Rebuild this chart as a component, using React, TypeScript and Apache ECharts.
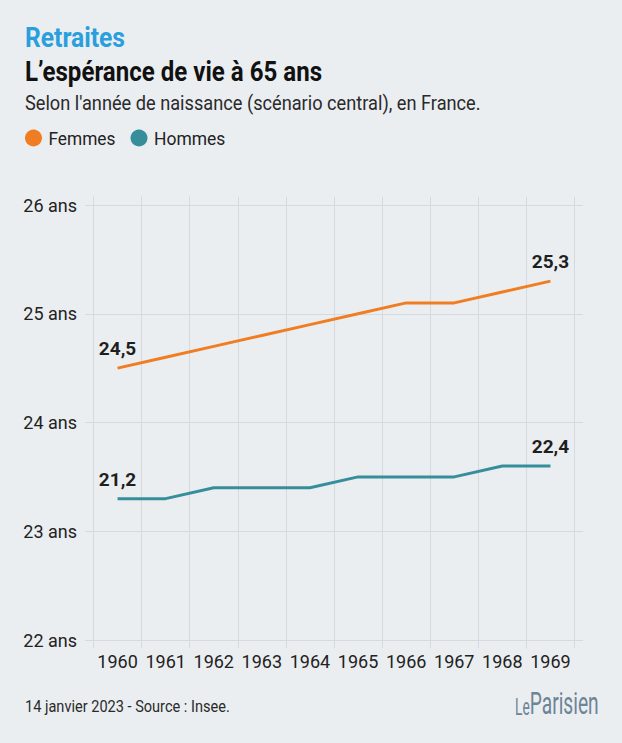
import React, { useEffect, useRef } from "react";
import * as echarts from "echarts";

const annees = ["1960", "1961", "1962", "1963", "1964", "1965", "1966", "1967", "1968", "1969"];
const femmes = [24.5, 24.6, 24.7, 24.8, 24.9, 25.0, 25.1, 25.1, 25.2, 25.3];
// Hommes curve as drawn in the reference (its end labels read 21,2 and 22,4)
const hommes = [23.3, 23.3, 23.4, 23.4, 23.4, 23.5, 23.5, 23.5, 23.6, 23.6];
const femmesLabels = ["24,5", "25,3"];
const hommesLabels = ["21,2", "22,4"];
const yTicks = [22, 23, 24, 25, 26];
const seriesNames = ["Femmes", "Hommes"];

const FONT = "Roboto, sans-serif";
const BG = "#ebeef1";
const ORANGE = "#f07d22";
const TEAL = "#378e9b";
const GRID = "#d6dade";
const LOGO = "#6b8496";

function withEndLabels(values: number[], labels: string[]) {
  return values.map((v, i) => {
    const isFirst = i === 0;
    const isLast = i === values.length - 1;
    if (!isFirst && !isLast) return v;
    return {
      value: v,
      label: {
        show: true,
        position: "top",
        distance: 9,
        formatter: isFirst ? labels[0] : labels[1],
        fontFamily: FONT,
        fontWeight: "bold",
        fontSize: 19,
        lineHeight: 21,
        color: "#1f1f1f",
      },
    };
  });
}

function scaledText(text: string, x: number, y: number, font: string, fill: string, scaleX: number) {
  return {
    type: "text",
    x,
    y,
    scaleX,
    style: { text, font, fill, textAlign: "left", textVerticalAlign: "middle" },
  };
}

export default function App() {
  const ref = useRef<HTMLDivElement>(null);
  useEffect(() => {
    if (!ref.current) return;
    const chart = echarts.init(ref.current, undefined, { renderer: "svg" });
    const yMin = yTicks[0];
    const yMax = yTicks[yTicks.length - 1];
    chart.setOption({
      animation: false,
      backgroundColor: BG,
      textStyle: { fontFamily: FONT },
      grid: [
        { left: 85, right: 39, top: 205, bottom: 103 },
        { left: 93.5, right: 47.5, top: 196.7, bottom: 94.7 },
      ],
      xAxis: [
        { type: "value", gridIndex: 0, show: false, min: 0, max: 1 },
        {
          type: "category",
          gridIndex: 1,
          data: annees,
          boundaryGap: true,
          axisLine: { show: false },
          axisTick: { show: false },
          axisLabel: { interval: 0, margin: 4, fontFamily: FONT, fontSize: 18, color: "#222" },
          splitLine: { show: true, interval: 0, lineStyle: { color: GRID, width: 1 } },
        },
      ],
      yAxis: [
        {
          type: "value",
          gridIndex: 0,
          min: yMin,
          max: yMax,
          interval: 1,
          axisLine: { show: false },
          axisTick: { show: false },
          axisLabel: {
            margin: 8,
            fontFamily: FONT,
            fontSize: 18,
            color: "#222",
            formatter: (v: number) => `${v} ans`,
          },
          splitLine: { show: true, lineStyle: { color: GRID, width: 1 } },
        },
        {
          type: "value",
          gridIndex: 1,
          min: yMin - 8.3 / 108.75,
          max: yMax + 8.3 / 108.75,
          show: false,
          splitLine: { show: false },
        },
      ],
      series: [
        {
          name: seriesNames[0],
          type: "line",
          xAxisIndex: 1,
          yAxisIndex: 1,
          data: withEndLabels(femmes, femmesLabels),
          symbol: "circle",
          symbolSize: 0.1,
          showSymbol: true,
          showAllSymbol: true,
          color: ORANGE,
          lineStyle: { width: 3, color: ORANGE },
        },
        {
          name: seriesNames[1],
          type: "line",
          xAxisIndex: 1,
          yAxisIndex: 1,
          data: withEndLabels(hommes, hommesLabels),
          symbol: "circle",
          symbolSize: 0.1,
          showSymbol: true,
          showAllSymbol: true,
          color: TEAL,
          lineStyle: { width: 3, color: TEAL },
        },
      ],
      graphic: [
        scaledText("Retraites", 25, 37, `bold 28px ${FONT}`, "#2a9fdd", 0.88),
        scaledText("L\u2019espérance de vie à 65 ans", 25, 71, `bold 28px ${FONT}`, "#111", 0.86),
        scaledText(
          "Selon l'année de naissance (scénario central), en France.",
          25,
          103.5,
          `20px ${FONT}`,
          "#2a2a2a",
          0.91
        ),
        { type: "circle", shape: { cx: 33.5, cy: 138, r: 8.5 }, style: { fill: ORANGE } },
        scaledText(seriesNames[0], 48.5, 138.5, `19px ${FONT}`, "#222", 0.91),
        { type: "circle", shape: { cx: 139, cy: 138, r: 8.5 }, style: { fill: TEAL } },
        scaledText(seriesNames[1], 154, 138.5, `19px ${FONT}`, "#222", 0.92),
        scaledText("14 janvier 2023 - Source : Insee.", 25, 707, `16px ${FONT}`, "#2a2a2a", 0.91),
        {
          type: "text",
          x: 515,
          y: 719,
          scaleX: 0.6,
          style: {
            text: "{a|Le}{b|Parisien}",
            fill: LOGO,
            textAlign: "left",
            textVerticalAlign: "bottom",
            rich: {
              a: { fontFamily: FONT, fontSize: 23, fill: LOGO, color: LOGO, verticalAlign: "bottom" },
              b: { fontFamily: FONT, fontSize: 32, fill: LOGO, color: LOGO, verticalAlign: "bottom" },
            },
          },
        },
      ],
    });
    return () => chart.dispose();
  }, []);
  return <div ref={ref} style={{ width: 622, height: 743, position: "absolute", left: 0, top: 0 }} />;
}
